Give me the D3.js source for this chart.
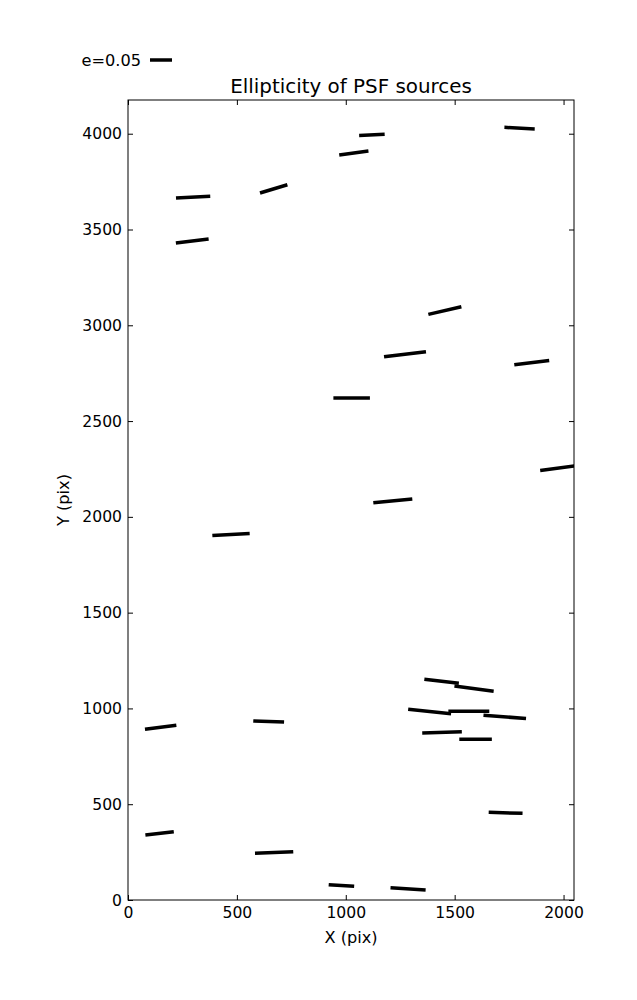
<!DOCTYPE html>
<html><head><meta charset="utf-8">
<script src="https://cdn.jsdelivr.net/npm/d3@7"></script>
<style>body{margin:0;background:#fff}svg{display:block}text{font-family:"DejaVu Sans",sans-serif;fill:#000}</style>
</head><body>
<script>
// Source positions (pix), ellipticity and position angle (deg)
const xs = [299,295,669,1037,1120,1798,1027,1272,1455,1854,473,1216,1979,150,646,1440,1589,1385,1565,1730,1442,1596,145,671,980,1286,1734];
const ys = [3669,3440,3712,3899,3994,4029,2621,2849,3077,2805,1908,2083,2255,902,932,1142,1103,984,985,956,875,839,348,248,76,58,455];
const es = [0.078,0.075,0.065,0.067,0.058,0.069,0.083,0.096,0.077,0.080,0.085,0.089,0.086,0.072,0.070,0.079,0.090,0.098,0.093,0.097,0.090,0.074,0.065,0.087,0.058,0.080,0.077];
const thetas = [3.3,7,16.9,7.9,2.3,-3,0,6.8,13.1,7,3.1,5.4,7.5,7.3,-1.8,-6.6,-7.7,-5.9,0,-4.6,1.5,0,6.6,2.4,-3.6,-3.8,-1.7];
const xTicks = [0,500,1000,1500,2000];
const yTicks = [0,500,1000,1500,2000,2500,3000,3500,4000];
const keyE = 0.05;
const titleText = "Ellipticity of PSF sources";

const W=637,H=1000;
const m={l:128,r:574,t:100,b:900};
const svg=d3.select("body").append("svg").attr("width",W).attr("height",H);
const x=d3.scaleLinear().domain([0,2048]).range([m.l,m.r]);
const y=d3.scaleLinear().domain([0,4176]).range([m.b,m.t]);
const eS=d3.scaleLinear().domain([0,keyE]).range([0,22]);

svg.append("defs").append("clipPath").attr("id","clip").append("rect")
  .attr("x",m.l).attr("y",m.t).attr("width",m.r-m.l).attr("height",m.b-m.t);

const data=xs.map((v,i)=>({x:v,y:ys[i],e:es[i],t:thetas[i]}));
svg.append("g").attr("clip-path","url(#clip)").selectAll("line").data(data).join("line")
  .attr("x1",d=>x(d.x)-eS(d.e)/2*Math.cos(d.t*Math.PI/180))
  .attr("x2",d=>x(d.x)+eS(d.e)/2*Math.cos(d.t*Math.PI/180))
  .attr("y1",d=>y(d.y)+eS(d.e)/2*Math.sin(d.t*Math.PI/180))
  .attr("y2",d=>y(d.y)-eS(d.e)/2*Math.sin(d.t*Math.PI/180))
  .attr("stroke","#000").attr("stroke-width",3.5).attr("stroke-linecap","butt");

// axes
const fs=15.6;
const ax=svg.append("g").attr("transform",`translate(0,${m.b})`).call(d3.axisBottom(x).tickValues(xTicks).tickSize(-5).tickPadding(10).tickFormat(d3.format("d")));
const axT=svg.append("g").attr("transform",`translate(0,${m.t})`).call(d3.axisTop(x).tickValues(xTicks).tickSize(-5).tickFormat(""));
const ay=svg.append("g").attr("transform",`translate(${m.l},0)`).call(d3.axisLeft(y).tickValues(yTicks).tickSize(-5).tickPadding(10).tickFormat(d3.format("d")));
const ayR=svg.append("g").attr("transform",`translate(${m.r},0)`).call(d3.axisRight(y).tickValues(yTicks).tickSize(-5).tickFormat(""));
[ax,axT,ay,ayR].forEach(g=>{g.select(".domain").remove();g.selectAll("line").attr("stroke","#000");g.selectAll("text").attr("font-size",fs).attr("font-family","DejaVu Sans");});
ax.selectAll("text").attr("dy","0.71em").attr("y",7);
ay.selectAll("text").attr("x",-6);
svg.append("rect").attr("x",m.l).attr("y",m.t).attr("width",m.r-m.l).attr("height",m.b-m.t)
  .attr("fill","none").attr("stroke","#000").attr("stroke-width",1);

svg.append("text").attr("x",(m.l+m.r)/2).attr("y",93).attr("text-anchor","middle").attr("font-size",19.9).text(titleText);
svg.append("text").attr("x",(m.l+m.r)/2).attr("y",943).attr("text-anchor","middle").attr("font-size",16.2).text("X (pix)");
svg.append("text").attr("transform",`translate(69,${(m.t+m.b)/2}) rotate(-90)`).attr("text-anchor","middle").attr("font-size",16.2).text("Y (pix)");

// key
svg.append("line").attr("x1",150).attr("x2",150+eS(keyE)).attr("y1",60).attr("y2",60).attr("stroke","#000").attr("stroke-width",3.5);
svg.append("text").attr("x",141).attr("y",66).attr("text-anchor","end").attr("font-size",16.2).text("e="+keyE);
</script>
</body></html>
